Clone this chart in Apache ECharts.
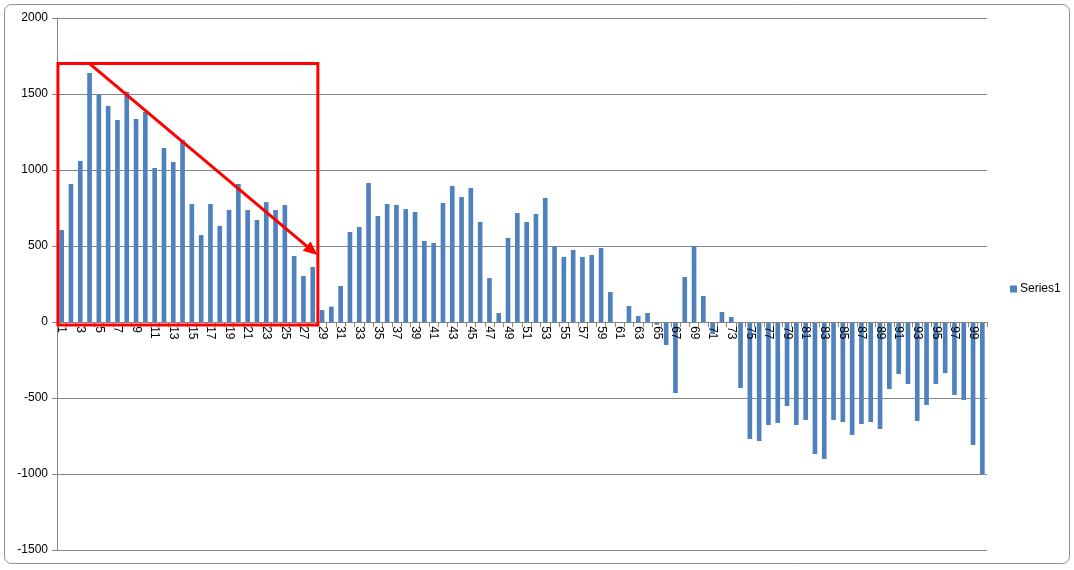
<!DOCTYPE html>
<html>
<head>
<meta charset="utf-8">
<script src="https://cdn.jsdelivr.net/npm/echarts@6/dist/echarts.min.js"></script>
<style>
html,body{margin:0;padding:0;background:#ffffff;}
#chart{width:1074px;height:570px;}
</style>
</head>
<body>
<div id="chart"></div>
<script>
const categories = [];
for (let i = 1; i <= 100; i++) categories.push(String(i));

const seriesName = 'Series1';
const values = [
  605, 908, 1059, 1638, 1496, 1421, 1329, 1515, 1336, 1382,
  1013, 1145, 1053, 1197, 776, 572, 776, 632, 737, 908,
  737, 671, 789, 737, 770, 434, 303, 362, 79, 101,
  237, 592, 625, 914, 697, 776, 770, 743, 724, 533,
  520, 783, 895, 822, 882, 658, 289, 59, 553, 717,
  658, 711, 816, 500, 428, 474, 428, 441, 487, 197,
  -5, 105, 39, 59, -18, -151, -467, 296, 500, 171,
  -79, 66, 33, -434, -770, -783, -678, -664, -553, -678,
  -645, -868, -901, -645, -658, -743, -671, -658, -704, -441,
  -342, -408, -651, -546, -408, -336, -480, -513, -809, -1000
];
const yTicks = [-1500, -1000, -500, 0, 500, 1000, 1500, 2000];

// annotation (red box + arrow) in data terms: fractional category index, value
const boxCat = [-0.4, 27.55];
const boxVal = [1700, -20];
const arrowFrom = [3.0, 1700];
const arrowTo = [27.5, 440];

const FONT = "'Liberation Sans', Arial, sans-serif";
const chart = echarts.init(document.getElementById('chart'));

const GRID = { left: 57, right: 87, top: 18, bottom: 20 };

chart.setOption({
  animation: false,
  backgroundColor: '#ffffff',
  textStyle: { fontFamily: FONT },
  grid: Object.assign({ containLabel: false }, GRID),
  legend: {
    data: [seriesName],
    left: 1005, top: 278,
    icon: 'rect', itemWidth: 7, itemHeight: 7, itemGap: 4,
    textStyle: { fontSize: 12, color: '#000', fontFamily: FONT, padding: [0,0,0,-2] }
  },
  xAxis: {
    type: 'category',
    data: categories,
    boundaryGap: true,
    position: 'bottom',
    offset: 0,
    z: 10,
    axisLine: { onZero: false, lineStyle: { color: '#868686', width: 1 } },
    axisTick: { show: true, interval: 0, length: 5, lineStyle: { color: '#868686' } },
    axisLabel: { interval: 1, rotate: -90, fontSize: 12, color: '#000', margin: 4, fontFamily: FONT },
    splitLine: { show: false }
  },
  yAxis: {
    type: 'value',
    min: yTicks[0], max: yTicks[yTicks.length - 1], interval: 500,
    axisLine: { show: true, lineStyle: { color: '#868686', width: 1 } },
    axisTick: { show: true, length: 5, lineStyle: { color: '#868686' } },
    axisLabel: { fontSize: 12, color: '#000', margin: 9, fontFamily: FONT, formatter: v => String(v) },
    splitLine: { show: true, lineStyle: { color: '#868686', width: 1 } }
  },
  series: [{
    name: seriesName,
    type: 'bar',
    data: values,
    barWidth: '50%',
    z: 2,
    itemStyle: { color: '#4F81BD' }
  }]
});

// move the category axis (line, ticks, labels) up to the zero line
const zeroY = chart.convertToPixel({ gridIndex: 0 }, [0, 0])[1];
const bottomY = chart.convertToPixel({ gridIndex: 0 }, [0, yTicks[0]])[1];
chart.setOption({ xAxis: { offset: -(bottomY - zeroY) } });

function px(cat, val) {
  const p0 = chart.convertToPixel({ gridIndex: 0 }, [0, val]);
  const p1 = chart.convertToPixel({ gridIndex: 0 }, [1, val]);
  const step = p1[0] - p0[0];
  return [p0[0] + step * cat, p0[1]];
}

const tl = px(boxCat[0], boxVal[0]);
const br = px(boxCat[1], boxVal[1]);
const a0 = px(arrowFrom[0], arrowFrom[1]);
const a1 = px(arrowTo[0], arrowTo[1]);
const ang = Math.atan2(a1[1] - a0[1], a1[0] - a0[0]);
const headLen = 14, headW = 6;
const back = [a1[0] - headLen * Math.cos(ang), a1[1] - headLen * Math.sin(ang)];
const nx = -Math.sin(ang), ny = Math.cos(ang);

chart.setOption({
  graphic: [
    {
      type: 'rect', silent: true, z: -10,
      shape: { x: 4.5, y: 4.5, width: 1065, height: 559, r: 7 },
      style: { fill: 'none', stroke: '#8e8e8e', lineWidth: 1 }
    },
    {
      type: 'rect', silent: true, z: 100,
      shape: { x: tl[0], y: tl[1], width: br[0] - tl[0], height: br[1] - tl[1] },
      style: { fill: 'none', stroke: '#ff0000', lineWidth: 3 }
    },
    {
      type: 'line', silent: true, z: 100,
      shape: { x1: a0[0], y1: a0[1], x2: back[0] + 2 * Math.cos(ang), y2: back[1] + 2 * Math.sin(ang) },
      style: { stroke: '#ff0000', lineWidth: 3 }
    },
    {
      type: 'polygon', silent: true, z: 100,
      shape: { points: [
        [a1[0], a1[1]],
        [back[0] + nx * headW, back[1] + ny * headW],
        [back[0] - nx * headW, back[1] - ny * headW]
      ] },
      style: { fill: '#ff0000' }
    }
  ]
});
</script>
</body>
</html>
